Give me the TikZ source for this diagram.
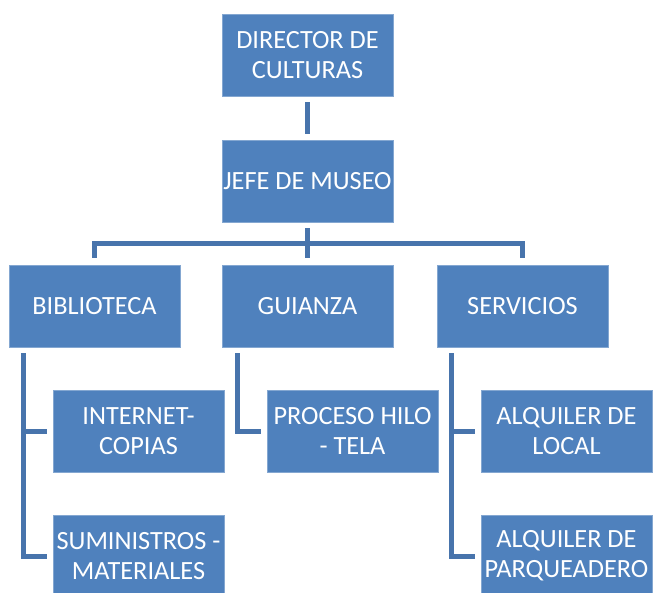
\documentclass[tikz,border=0pt]{standalone}
\usepackage{fontspec}
\setmainfont{Carlito}
\usetikzlibrary{calc}
\definecolor{boxblue}{HTML}{4F81BD}
\definecolor{lineblue}{HTML}{4874AC}
\begin{document}
\begin{tikzpicture}[x=1pt,y=-1pt,
  orgbox/.style={rectangle, fill=boxblue, draw=boxblue!70!white, line width=0.6pt,
    minimum width=171pt, minimum height=82pt, inner sep=0pt, text=white,
    align=center, font=\fontsize{26.3}{30}\selectfont},
  link/.style={draw=lineblue, line width=5pt, line cap=butt, line join=miter}]
\useasboundingbox (0,0) rectangle (653,592);
\begin{scope}
\clip (0,0) rectangle (653,592);
\node[orgbox] (dir)  at (307.5,55)  {DIRECTOR DE\\CULTURAS};
\node[orgbox] (jefe) at (307.5,181) {JEFE DE MUSEO};
\node[orgbox] (bib)  at (94.5,306)  {BIBLIOTECA};
\node[orgbox] (gui)  at (307.5,306) {GUIANZA};
\node[orgbox] (ser)  at (522.5,306) {SERVICIOS};
\node[orgbox] (int)  at (138.5,431) {INTERNET-\\COPIAS};
\node[orgbox] (pro)  at (352.5,431) {PROCESO HILO\\- TELA};
\node[orgbox] (alq)  at (566.5,431) {ALQUILER DE\\LOCAL};
\node[orgbox] (sum)  at (138.5,556) {SUMINISTROS -\\MATERIALES};
\node[orgbox] (par)  at (566.5,556) {ALQUILER DE\\PARQUEADERO};
\end{scope}

\draw[link] ($(dir.south)+(0,6)$) -- ($(jefe.north)+(0,-6)$);

\coordinate (bar) at ($(jefe.south)+(0,21.5)$);
\draw[link] ($(bib.north)+(0,-7)$) |- (bar) -| ($(ser.north)+(0,-7)$);
\draw[link] ($(jefe.south)+(0,6)$) -- ($(gui.north)+(0,-7)$);

\coordinate (bl) at ($(bib.south west)+(15,6)$);
\draw[link] (bl) |- ($(sum.west)+(-6,0)$);
\draw[link] (bl) |- ($(int.west)+(-6,0)$);

\coordinate (gl) at ($(gui.south west)+(16,6)$);
\draw[link] (gl) |- ($(pro.west)+(-6,0)$);

\coordinate (sl) at ($(ser.south west)+(15,6)$);
\draw[link] (sl) |- ($(par.west)+(-6,0)$);
\draw[link] (sl) |- ($(alq.west)+(-6,0)$);
\end{tikzpicture}
\end{document}
